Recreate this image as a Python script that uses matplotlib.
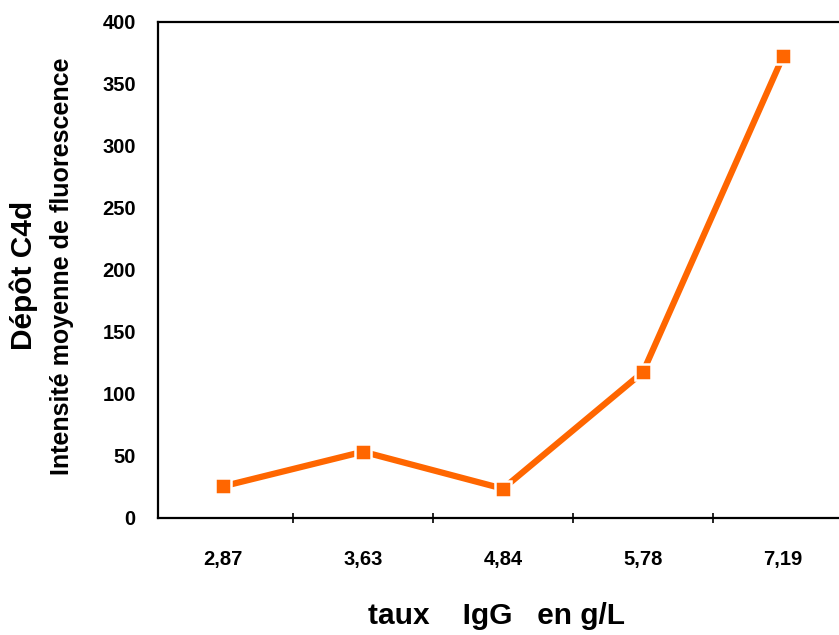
import matplotlib
matplotlib.use("Agg")
import matplotlib.pyplot as plt

# IgG levels (g/L) and mean C4d fluorescence intensity
igg_levels = ["2,87", "3,63", "4,84", "5,78", "7,19"]
c4d_intensity = [25.5, 53.4, 23.6, 117.6, 372]
y_ticks = [0, 50, 100, 150, 200, 250, 300, 350, 400]

plt.rcParams["font.family"] = ["Liberation Sans", "DejaVu Sans"]
plt.rcParams["font.weight"] = "bold"

fig = plt.figure(figsize=(8.39, 6.35), dpi=100)
ax = fig.add_axes([0.1883, 0.1843, 0.8117, 0.7815])

x = list(range(len(igg_levels)))
ax.plot(x, c4d_intensity, color="#FF6600", linewidth=4.5,
        marker="s", markersize=11, markerfacecolor="#FF6600",
        markeredgecolor="white", markeredgewidth=1.8, solid_capstyle="butt",
        clip_on=False, zorder=3)

ax.set_xlim(-0.464, 4.4)
ax.set_ylim(0, 400)

ax.set_xticks(x)
ax.set_xticklabels(igg_levels, fontsize=14.5, fontweight="bold")
ax.set_xticks([0.5, 1.5, 2.5, 3.5], minor=True)
ax.tick_params(axis="x", which="major", length=0, pad=23)
ax.tick_params(axis="x", which="minor", length=6.5, width=1.2, direction="inout")

ax.set_yticks(y_ticks)
ax.set_yticklabels([str(v) for v in y_ticks], fontsize=14.5, fontweight="bold")
ax.tick_params(axis="y", length=0, pad=16)

for side in ("left", "bottom", "top"):
    ax.spines[side].set_linewidth(1.6)
ax.spines["right"].set_visible(False)

fig.text(497 / 839, 1 - 616 / 635, "taux    IgG   en g/L", ha="center", va="center",
         fontsize=21.5, fontweight="bold")
fig.text(24 / 839, 1 - 275 / 635, "Dépôt C4d", ha="center", va="center",
         rotation=90, fontsize=21.5, fontweight="bold")
fig.text(62 / 839, 1 - 266 / 635, "Intensité moyenne de fluorescence", ha="center",
         va="center", rotation=90, fontsize=18, fontweight="bold")

fig.savefig("out.png", dpi=100, facecolor="white")
